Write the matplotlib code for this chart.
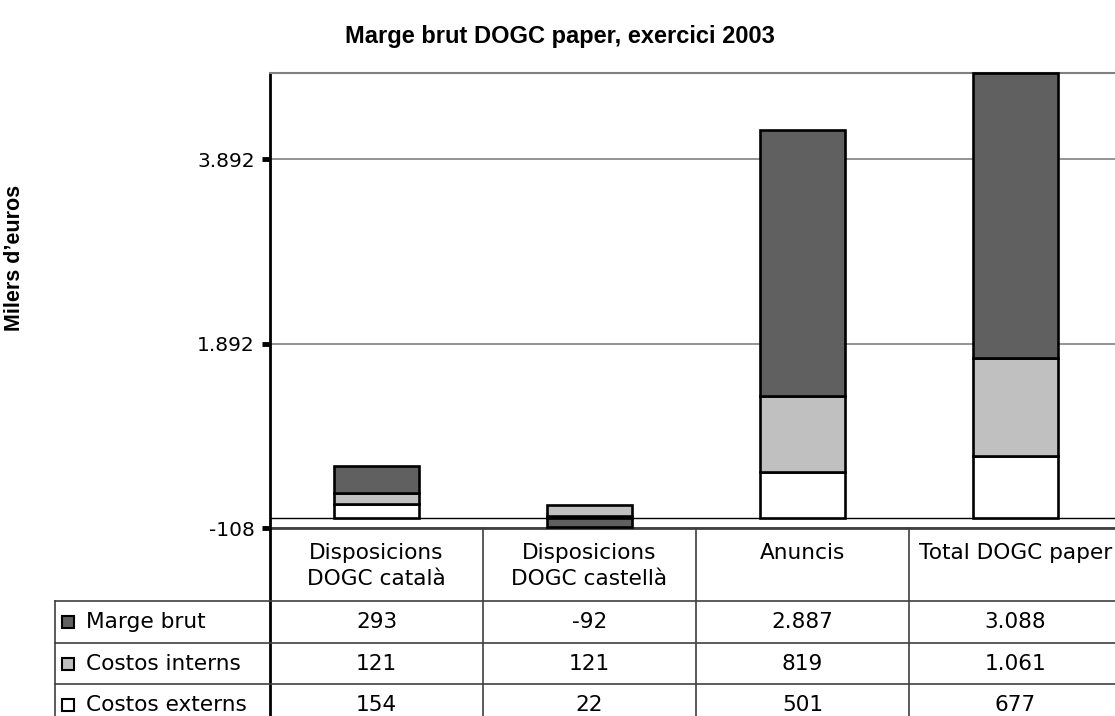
import matplotlib
matplotlib.use("Agg")
import matplotlib.pyplot as plt
from matplotlib.patches import Rectangle
from matplotlib.ticker import FuncFormatter

categories = ["Disposicions\nDOGC català", "Disposicions\nDOGC castellà", "Anuncis", "Total DOGC paper"]
series_names = ["Marge brut", "Costos interns", "Costos externs"]
marge_brut = [293, -92, 2887, 3088]
costos_interns = [121, 121, 819, 1061]
costos_externs = [154, 22, 501, 677]
yticks = [-108, 1892, 3892]

colors = {"Marge brut": "#606060", "Costos interns": "#c0c0c0", "Costos externs": "#ffffff"}
values = {"Marge brut": marge_brut, "Costos interns": costos_interns, "Costos externs": costos_externs}

fs_table = 15.6
fs_axis = 14.5

W, H = 1115, 716
fig = plt.figure(figsize=(W / 100, H / 100), dpi=100)
plt.rcParams['font.family'] = ['DejaVu Sans']

# plot area (pixels)
px_left, px_top, px_bottom, col_w = 270, 73, 528, 213
ax = fig.add_axes([px_left / W, 1 - px_bottom / H, 4 * col_w / W, (px_bottom - px_top) / H])

x = list(range(len(categories)))
pos = [0] * len(x)
neg = [0] * len(x)
for name in ["Costos externs", "Costos interns", "Marge brut"]:
    vals = values[name]
    bottoms = [pos[i] if v >= 0 else neg[i] for i, v in enumerate(vals)]
    ax.bar(x, vals, width=0.4, bottom=bottoms, color=colors[name], edgecolor='black',
           linewidth=1.9, zorder=3, clip_on=False)
    for i, v in enumerate(vals):
        if v >= 0:
            pos[i] += v
        else:
            neg[i] += v

ax.set_xlim(-0.5, len(x) - 0.5)
ax.set_ylim(yticks[0], max(pos))
ax.set_yticks(yticks)
ax.yaxis.set_major_formatter(FuncFormatter(lambda v, p: "{:,.0f}".format(v).replace(",", ".")))
ax.set_xticks([])
ax.tick_params(axis='y', length=6, width=3.5, pad=5, labelsize=fs_axis)
ax.yaxis.grid(True, color='#808080', linewidth=1.2, zorder=1)
ax.axhline(0, color='black', linewidth=1, zorder=2)
ax.spines['right'].set_visible(False)
ax.spines['top'].set_color('#808080')
ax.spines['top'].set_linewidth(1.5)
ax.spines['left'].set_linewidth(2)
ax.spines['bottom'].set_color('#404040')
ax.spines['bottom'].set_linewidth(2)

fig.text(560 / W, 1 - 37 / H, "Marge brut DOGC paper, exercici 2003", ha='center', va='center',
         fontsize=17, fontweight='bold', family='Liberation Sans')
fig.text(15 / W, 1 - 258 / H, "Milers d\u2019euros", rotation=90, ha='center', va='center',
         fontsize=15.5, fontweight='bold', family='Liberation Sans')

# data table below the plot, in pixel coordinates
tab = fig.add_axes([0, 0, 1, 1], zorder=5)
tab.set_xlim(0, W)
tab.set_ylim(H, 0)
tab.axis('off')
tab.patch.set_alpha(0)

row_tops = [601, 643, 684, 726]
label_left = 55
right_edge = px_left + 4 * col_w
line_c = '#404040'

tab.plot([px_left, px_left], [px_bottom, H], color='black', lw=2)
for k in range(1, len(x) + 1):
    xc = px_left + k * col_w
    tab.plot([xc, xc], [px_bottom, H], color=line_c, lw=1.2)
tab.plot([label_left, label_left], [row_tops[0], H], color=line_c, lw=1.2)
for yr in row_tops[:-1]:
    tab.plot([label_left, right_edge], [yr, yr], color=line_c, lw=1.2)

for i, cat in enumerate(categories):
    xc = px_left + (i + 0.5) * col_w
    tab.text(xc, 543, cat, ha='center', va='top', fontsize=fs_table, linespacing=1.35)

for r, name in enumerate(series_names):
    yc = (row_tops[r] + row_tops[r + 1]) / 2
    tab.add_patch(Rectangle((62, yc - 6), 12, 12, facecolor=colors[name], edgecolor='black', lw=1.5))
    tab.text(86, yc, name, ha='left', va='center', fontsize=fs_table)
    for i, v in enumerate(values[name]):
        xc = px_left + (i + 0.5) * col_w
        tab.text(xc, yc, "{:,}".format(v).replace(",", "."), ha='center', va='center', fontsize=fs_table)

fig.savefig("out.png", dpi=100)
